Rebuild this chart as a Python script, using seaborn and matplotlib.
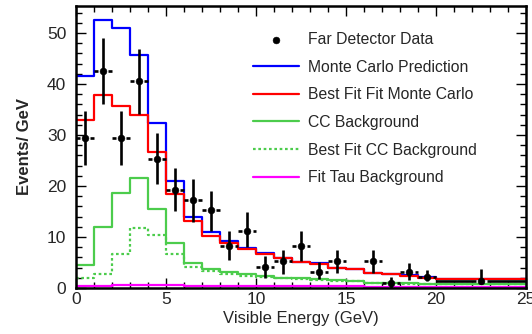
import numpy as np
import pandas as pd
import matplotlib
matplotlib.use("Agg")
import matplotlib.pyplot as plt
import seaborn as sns
from matplotlib.ticker import MultipleLocator

# bin edges (GeV): 1 GeV bins up to 20, then one wide 20-25 bin
edges = [0, 1, 2, 3, 4, 5, 6, 7, 8, 9, 10, 11, 12, 13, 14, 15, 16, 17, 18, 19, 20, 25]

mc_pred = [41.5, 52.6, 51.0, 45.7, 32.3, 20.9, 14.0, 10.9, 9.2, 7.9, 6.9,
           5.9, 5.1, 4.9, 4.0, 3.8, 3.0, 2.8, 2.5, 2.1, 1.8]
best_fit = [33.0, 37.8, 35.6, 34.0, 26.6, 18.5, 13.2, 10.2, 8.8, 7.7, 6.6,
            5.8, 5.0, 4.7, 3.9, 3.7, 2.9, 2.7, 2.4, 2.0, 1.8]
cc_bkg = [4.5, 11.9, 18.6, 21.5, 15.5, 8.8, 4.9, 3.8, 3.2, 2.7, 2.4,
          2.0, 2.0, 1.8, 1.5, 1.4, 1.0, 1.0, 0.9, 0.8, 0.8]
fit_cc_bkg = [1.9, 2.8, 6.6, 11.8, 10.4, 6.6, 4.1, 3.3, 2.8, 2.4, 2.2,
              1.9, 1.8, 1.6, 1.4, 1.3, 0.9, 0.9, 0.8, 0.7, 0.7]
tau_bkg = [0.3, 0.3, 0.5, 0.5, 0.5, 0.5, 0.3, 0.3, 0.3, 0.3, 0.3,
           0.3, 0.3, 0.3, 0.3, 0.3, 0.25, 0.25, 0.25, 0.25, 0.25]

# far detector data points
data_x = [0.5, 1.5, 2.5, 3.5, 4.5, 5.5, 6.5, 7.5, 8.5, 9.5, 10.5, 11.5,
          12.5, 13.5, 14.5, 16.5, 17.5, 18.5, 19.5, 22.5]
data_y = [29.5, 42.6, 29.5, 40.6, 25.3, 19.3, 17.3, 15.3, 8.3, 11.2, 4.1, 5.3,
          8.3, 3.1, 5.3, 5.3, 1.0, 3.1, 2.2, 1.4]
err_lo = [5.3, 6.6, 5.3, 6.4, 4.9, 4.3, 4.3, 4.1, 2.9, 3.1, 2.1, 2.5,
          3.0, 1.3, 2.4, 2.4, 1.0, 1.6, 0.8, 0.7]
err_hi = [5.3, 6.5, 5.3, 6.3, 5.1, 4.2, 4.1, 3.8, 2.8, 3.6, 2.2, 2.1,
          2.8, 1.9, 2.1, 2.1, 1.2, 1.7, 1.3, 2.3]
data_xerr = [0.5] * 19 + [2.5]

sns.set_theme(style="ticks")
plt.rcParams['font.family'] = ['Liberation Sans', 'DejaVu Sans']

fig = plt.figure(figsize=(5.32, 3.34), dpi=100)
ax = fig.add_axes([0.143, 0.138, 0.846, 0.844])

def step_line(vals, color, label, ls='-'):
    df = pd.DataFrame({'E': edges, 'v': list(vals) + [vals[-1]]})
    sns.lineplot(data=df, x='E', y='v', ax=ax, color=color, lw=1.6, ls=ls,
                 drawstyle='steps-post', estimator=None, sort=False, label=label)

# data: vertical bars, horizontal bars with a small gap around the marker
ax.errorbar(data_x, data_y, yerr=[err_lo, err_hi], fmt='none',
            ecolor='black', elinewidth=1.9, capsize=0, zorder=5)
gap = 0.3
for x, y, xe in zip(data_x, data_y, data_xerr):
    ax.hlines([y, y], [x - xe, x + gap], [x - gap, x + xe], color='black', lw=1.9, zorder=5)
sns.scatterplot(x=data_x, y=data_y, ax=ax, color='black', s=24, edgecolor='black',
                zorder=6, label='Far Detector Data')

step_line(mc_pred, '#0000ff', 'Monte Carlo Prediction')
step_line(best_fit, '#ff0000', 'Best Fit Fit Monte Carlo')
step_line(cc_bkg, '#4ccc4c', 'CC Background')
step_line(fit_cc_bkg, '#4ccc4c', 'Best Fit CC Background', ls=(0, (1.2, 1.2)))
step_line(tau_bkg, '#ff00ff', 'Fit Tau Background')

ax.set_xlim(0, 25)
ax.set_ylim(0, 55.3)
ax.xaxis.set_major_locator(MultipleLocator(5))
ax.xaxis.set_minor_locator(MultipleLocator(1))
ax.yaxis.set_major_locator(MultipleLocator(10))
ax.yaxis.set_minor_locator(MultipleLocator(2))
ax.tick_params(which='both', direction='in', top=True, right=True, labelsize=12.5,
               color='black', width=1.0)
ax.tick_params(axis='y', pad=7)
ax.tick_params(axis='x', pad=3)
ax.tick_params(which='major', length=7)
ax.tick_params(which='minor', length=4)
for s in ax.spines.values():
    s.set_linewidth(1.8)
    s.set_color('black')

ax.set_xlabel('Visible Energy (GeV)', fontsize=12, labelpad=3)
ax.set_ylabel('Events/ GeV', fontsize=12, fontweight='bold', labelpad=11)

handles, labels = ax.get_legend_handles_labels()
order = ['Far Detector Data', 'Monte Carlo Prediction', 'Best Fit Fit Monte Carlo',
         'CC Background', 'Best Fit CC Background', 'Fit Tau Background']
hmap = dict(zip(labels, handles))
ax.legend([hmap[k] for k in order], order, loc='upper left', frameon=False,
          fontsize=11.3, handlelength=2.9, labelspacing=0.8, handletextpad=0.6,
          borderaxespad=0, bbox_to_anchor=(0.38, 0.929))

fig.savefig('out.png', dpi=100)
